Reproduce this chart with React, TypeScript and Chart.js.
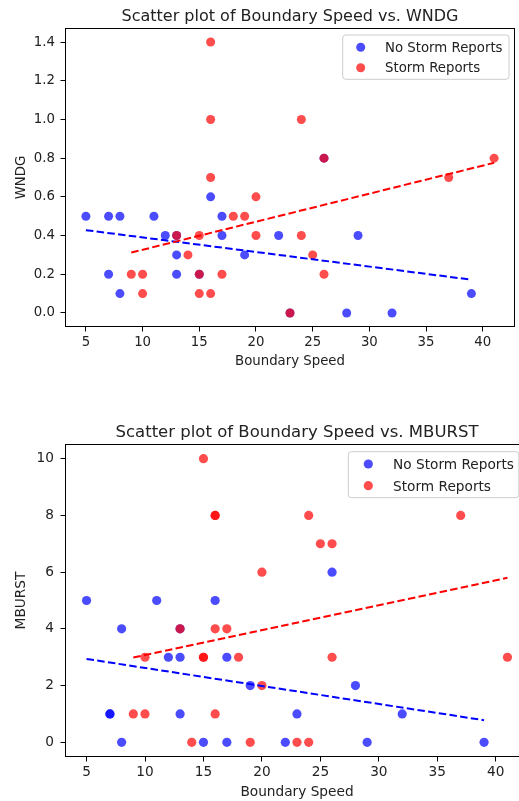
import React, { useEffect, useRef } from 'react';
import { Chart, registerables } from 'chart.js';

Chart.register(...registerables);

const FONT = "'DejaVu Sans', 'Liberation Sans', sans-serif";
const TEXT = '#222';
const BLUE = 'rgba(0, 0, 255, 0.7)';
const RED = 'rgba(255, 0, 0, 0.7)';

// ---- shared labels ----
const legendLabels = ['No Storm Reports', 'Storm Reports'];
const xAxisLabel = 'Boundary Speed';
const xTicks = [5, 10, 15, 20, 25, 30, 35, 40];
const xTickLabels = ['5', '10', '15', '20', '25', '30', '35', '40'];
const xRange = [3.2, 42.8];

// ---- WNDG panel ----
const wndgTitle = 'Scatter plot of Boundary Speed vs. WNDG';
const wndgYLabel = 'WNDG';
const wndgNoStormX = [5, 7, 7, 8, 8, 11, 12, 13, 13, 13, 15, 16, 17, 17, 19, 22, 23, 26, 28, 29, 32, 39];
const wndgNoStormY = [0.5, 0.5, 0.2, 0.5, 0.1, 0.5, 0.4, 0.4, 0.3, 0.2, 0.2, 0.6, 0.5, 0.4, 0.3, 0.4, 0.0, 0.8, 0.0, 0.4, 0.0, 0.1];
const wndgStormX = [9, 10, 10, 13, 14, 15, 15, 15, 16, 16, 16, 16, 17, 18, 19, 20, 20, 23, 24, 24, 25, 26, 26, 37, 41];
const wndgStormY = [0.2, 0.2, 0.1, 0.4, 0.3, 0.4, 0.2, 0.1, 1.4, 1.0, 0.7, 0.1, 0.2, 0.5, 0.5, 0.6, 0.4, 0.0, 1.0, 0.4, 0.3, 0.8, 0.2, 0.7, 0.8];
const wndgNoStormTrendX = [5, 39];
const wndgNoStormTrendY = [0.428, 0.172];
const wndgStormTrendX = [9, 41];
const wndgStormTrendY = [0.312, 0.776];
const wndgYTicks = [0, 0.2, 0.4, 0.6, 0.8, 1.0, 1.2, 1.4];
const wndgYTickLabels = ['0.0', '0.2', '0.4', '0.6', '0.8', '1.0', '1.2', '1.4'];
const wndgYRange = [-0.07, 1.47];

// ---- MBURST panel ----
const mburstTitle = 'Scatter plot of Boundary Speed vs. MBURST';
const mburstYLabel = 'MBURST';
const mburstNoStormX = [5, 7, 7, 8, 8, 11, 12, 13, 13, 13, 15, 16, 17, 17, 19, 22, 23, 26, 28, 29, 32, 39];
const mburstNoStormY = [5, 1, 1, 4, 0, 5, 3, 4, 3, 1, 0, 5, 3, 0, 2, 0, 1, 6, 2, 0, 1, 0];
const mburstStormX = [9, 10, 10, 13, 14, 15, 15, 15, 16, 16, 16, 16, 17, 18, 19, 20, 20, 23, 24, 24, 25, 26, 26, 37, 41];
const mburstStormY = [1, 3, 1, 4, 0, 10, 3, 3, 8, 8, 4, 1, 4, 3, 0, 6, 2, 0, 8, 0, 7, 7, 3, 8, 3];
const mburstNoStormTrendX = [5, 39];
const mburstNoStormTrendY = [2.94, 0.78];
const mburstStormTrendX = [9, 41];
const mburstStormTrendY = [2.99, 5.8];
const mburstYTicks = [0, 2, 4, 6, 8, 10];
const mburstYTickLabels = ['0', '2', '4', '6', '8', '10'];
const mburstYRange = [-0.5, 10.5];

type Panel = {
  title: string;
  yLabel: string;
  noStormX: number[]; noStormY: number[];
  stormX: number[]; stormY: number[];
  noTrendX: number[]; noTrendY: number[];
  stTrendX: number[]; stTrendY: number[];
  yTicks: number[]; yTickLabels: string[];
  yRange: number[];
  // layout
  width: number; height: number;
  pad: { left: number; right: number; top: number; bottom: number };
  yWidth: number; xHeight: number;
  fs: number; titleFs: number; titleBase: number;
  xTitlePad: number; yTitlePad: number; yTickPad: number; xTickPad: number;
  radius: number;
  legend: { left: number; top: number; w: number; h: number; mx: number; r1: number; r2: number; tx: number };
};

const pts = (xs: number[], ys: number[]) => xs.map((x, i) => ({ x, y: ys[i] }));

function buildChart(canvas: HTMLCanvasElement, p: Panel) {
  const font = { family: FONT, size: p.fs };
  const decor = {
    id: 'decor',
    afterDraw(chart: any) {
      const { ctx, chartArea: a } = chart;
      ctx.save();
      // frame
      ctx.strokeStyle = '#000';
      ctx.lineWidth = 1;
      ctx.strokeRect(a.left, a.top, a.right - a.left, a.bottom - a.top);
      // title
      ctx.fillStyle = TEXT;
      ctx.font = `${p.titleFs}px ${FONT}`;
      ctx.textAlign = 'center';
      ctx.textBaseline = 'alphabetic';
      ctx.fillText(p.title, (a.left + a.right) / 2, p.titleBase);
      // legend
      const L = p.legend;
      const bx = a.left + L.left;
      const by = a.top + L.top;
      ctx.beginPath();
      (ctx as any).roundRect(bx, by, L.w, L.h, 3);
      ctx.fillStyle = 'rgba(255,255,255,0.8)';
      ctx.fill();
      ctx.strokeStyle = '#cccccc';
      ctx.lineWidth = 1;
      ctx.stroke();
      const rows = [L.r1, L.r2];
      chart.data.datasets.slice(0, 2).forEach((ds: any, i: number) => {
        ctx.beginPath();
        ctx.arc(bx + L.mx, by + rows[i], p.radius, 0, Math.PI * 2);
        ctx.fillStyle = ds.backgroundColor;
        ctx.fill();
        ctx.fillStyle = TEXT;
        ctx.font = `${p.fs}px ${FONT}`;
        ctx.textAlign = 'left';
        ctx.textBaseline = 'alphabetic';
        ctx.fillText(ds.label, bx + L.tx, by + rows[i] + p.fs * 0.36);
      });
      ctx.restore();
    },
  };

  return new Chart(canvas, {
    type: 'scatter',
    data: {
      datasets: [
        { label: legendLabels[0], data: pts(p.noStormX, p.noStormY), backgroundColor: BLUE, borderWidth: 0, pointRadius: p.radius, order: 4 },
        { label: legendLabels[1], data: pts(p.stormX, p.stormY), backgroundColor: RED, borderWidth: 0, pointRadius: p.radius, order: 3 },
        { label: 'trend no storm', data: pts(p.noTrendX, p.noTrendY), showLine: true, borderColor: '#0000ff', borderWidth: 2, borderDash: [7.5, 3.3], pointRadius: 0, order: 2 } as any,
        { label: 'trend storm', data: pts(p.stTrendX, p.stTrendY), showLine: true, borderColor: '#ff0000', borderWidth: 2, borderDash: [7.5, 3.3], pointRadius: 0, order: 1 } as any,
      ],
    },
    options: {
      responsive: false,
      animation: false,
      events: [],
      layout: { padding: p.pad },
      plugins: { legend: { display: false }, tooltip: { enabled: false }, title: { display: false } },
      scales: {
        x: {
          type: 'linear',
          position: 'bottom',
          min: xRange[0],
          max: xRange[1],
          afterBuildTicks: (s: any) => { s.ticks = xTicks.map((v) => ({ value: v })); },
          afterFit: (s: any) => { s.height = p.xHeight; },
          ticks: { font, color: TEXT, padding: p.xTickPad, autoSkip: false, maxRotation: 0, callback: (_v: any, i: number) => xTickLabels[i] },
          grid: { drawOnChartArea: false, drawTicks: true, tickLength: 5, color: '#000', lineWidth: 1 },
          border: { display: false },
          title: { display: true, text: xAxisLabel, font, color: TEXT, padding: { top: 0, bottom: p.xTitlePad } },
        },
        y: {
          type: 'linear',
          position: 'left',
          min: p.yRange[0],
          max: p.yRange[1],
          afterBuildTicks: (s: any) => { s.ticks = p.yTicks.map((v) => ({ value: v })); },
          afterFit: (s: any) => { s.width = p.yWidth; },
          ticks: { font, color: TEXT, padding: p.yTickPad, autoSkip: false, callback: (_v: any, i: number) => p.yTickLabels[i] },
          grid: { drawOnChartArea: false, drawTicks: true, tickLength: 5, color: '#000', lineWidth: 1 },
          border: { display: false },
          title: { display: true, text: p.yLabel, font, color: TEXT, padding: { top: p.yTitlePad, bottom: 0 } },
        },
      },
    } as any,
    plugins: [decor],
  });
}

const topPanel: Panel = {
  title: wndgTitle, yLabel: wndgYLabel,
  noStormX: wndgNoStormX, noStormY: wndgNoStormY, stormX: wndgStormX, stormY: wndgStormY,
  noTrendX: wndgNoStormTrendX, noTrendY: wndgNoStormTrendY, stTrendX: wndgStormTrendX, stTrendY: wndgStormTrendY,
  yTicks: wndgYTicks, yTickLabels: wndgYTickLabels, yRange: wndgYRange,
  width: 519, height: 400,
  pad: { left: 0, right: 2.5, top: 28.5, bottom: 0 },
  yWidth: 65.5, xHeight: 73.5,
  fs: 13.3, titleFs: 16, titleBase: 21,
  xTitlePad: 30.6, yTitlePad: 13.7, yTickPad: 5.5, xTickPad: 3,
  radius: 4.5,
  legend: { left: 277.2, top: 6.5, w: 166.3, h: 44.3, mx: 18, r1: 12.3, r2: 32.7, tx: 42.3 },
};

const bottomPanel: Panel = {
  title: mburstTitle, yLabel: mburstYLabel,
  noStormX: mburstNoStormX, noStormY: mburstNoStormY, stormX: mburstStormX, stormY: mburstStormY,
  noTrendX: mburstNoStormTrendX, noTrendY: mburstNoStormTrendY, stTrendX: mburstStormTrendX, stTrendY: mburstStormTrendY,
  yTicks: mburstYTicks, yTickLabels: mburstYTickLabels, yRange: mburstYRange,
  width: 540, height: 401,
  pad: { left: 0, right: 11.5, top: 44.5, bottom: 0 },
  yWidth: 65.5, xHeight: 44.5,
  fs: 13.7, titleFs: 16.5, titleBase: 37,
  xTitlePad: 0.5, yTitlePad: 13.3, yTickPad: 6.5, xTickPad: 3,
  radius: 4.6,
  legend: { left: 282.8, top: 7.2, w: 170.6, h: 46, mx: 20, r1: 12.3, r2: 34, tx: 44.7 },
};

function ChartCanvas({ panel, top }: { panel: Panel; top: number }) {
  const ref = useRef<HTMLCanvasElement>(null);
  useEffect(() => {
    if (!ref.current) return;
    const c = buildChart(ref.current, panel);
    return () => c.destroy();
  }, [panel]);
  return (
    <canvas
      ref={ref}
      width={panel.width}
      height={panel.height}
      style={{ position: 'absolute', left: 0, top, width: panel.width, height: panel.height, display: 'block' }}
    />
  );
}

export default function App() {
  return (
    <div style={{ position: 'fixed', left: 0, top: 0, width: 519, height: 801, overflow: 'hidden', background: '#fff' }}>
      <ChartCanvas panel={topPanel} top={0} />
      <ChartCanvas panel={bottomPanel} top={400} />
    </div>
  );
}
